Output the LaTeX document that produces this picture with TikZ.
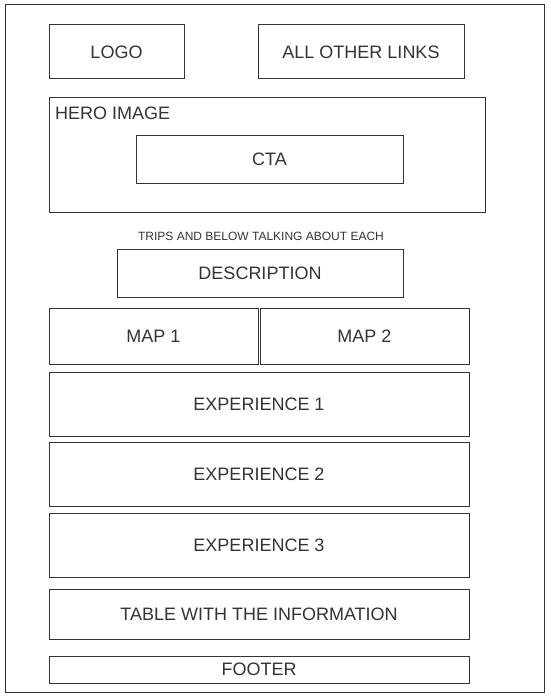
\documentclass[tikz,border=0pt]{standalone}
\usepackage{fontspec}
\setmainfont{Liberation Sans}
\usetikzlibrary{positioning}
\usepackage{xcolor}
\definecolor{wiregray}{RGB}{51,51,51}

\tikzset{
  wirebox/.style={draw=wiregray, line width=1pt, rectangle, anchor=north west,
    inner sep=0pt, outer sep=0pt, text=wiregray, font=\fontsize{18}{20}\selectfont},
  wirenote/.style={text=wiregray, inner sep=0pt, font=\fontsize{12}{14}\selectfont}
}

\begin{document}
\begin{tikzpicture}[x=1pt, y=-1pt]
            \useasboundingbox (0,0) rectangle (550,698);
            % --- Page frame ---
            \draw[draw=wiregray, line width=1pt] (5,5) rectangle (544,692);

            % Header
            \node[wirebox, minimum width=135pt, minimum height=54pt] (logo) at (49,25) {LOGO};
            \node[wirebox, minimum width=206pt, minimum height=54pt] (links) at (258,25) {ALL OTHER LINKS};

            % Hero with call to action
            \node[wirebox, minimum width=436pt, minimum height=114pt] (hero) at (49,98) {};
            \node[wirenote, font=\fontsize{18}{20}\selectfont, anchor=north west] (herolabel) at ([xshift=6pt, yshift=-9pt]hero.north west) {HERO IMAGE};
            \node[wirebox, minimum width=267pt, minimum height=48pt] (cta) at (136,135) {CTA};

            % Description of the trips
            \node[wirenote] (tripsnote) at (261,236) {TRIPS AND BELOW TALKING ABOUT EACH};
            \node[wirebox, minimum width=286pt, minimum height=48pt] (desc) at (117,249) {DESCRIPTION};

            % Maps
            \node[wirebox, minimum width=209pt, minimum height=56pt] (mapone) at (49,308) {MAP 1};
            \node[wirebox, minimum width=209pt, minimum height=56pt] (maptwo) at (260,308) {MAP 2};

            % Experiences
            \node[wirebox, minimum width=420pt, minimum height=64pt] (expone) at (49,372) {EXPERIENCE 1};
            \node[wirebox, minimum width=420pt, minimum height=64pt] (exptwo) at (49,442) {EXPERIENCE 2};
            \node[wirebox, minimum width=420pt, minimum height=64pt] (expthree) at (49,513) {EXPERIENCE 3};

            % Table and footer
            \node[wirebox, minimum width=420pt, minimum height=50pt] (infotable) at (49,589) {TABLE WITH THE INFORMATION};
            \node[wirebox, minimum width=420pt, minimum height=27pt] (footer) at (49,656) {FOOTER};
        \end{tikzpicture}
\end{document}
